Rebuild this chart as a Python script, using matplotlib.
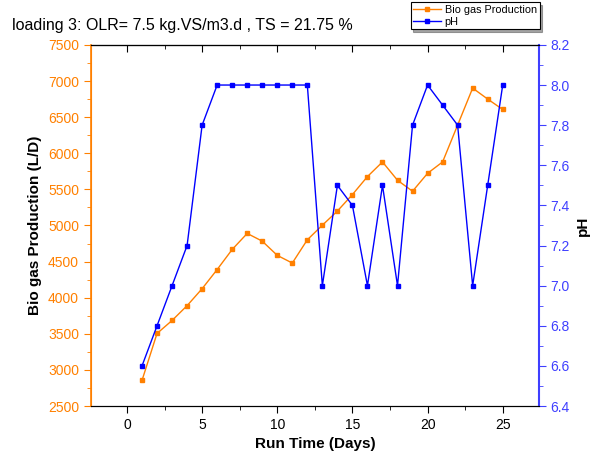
import numpy as np
import matplotlib
matplotlib.use("Agg")
import matplotlib.pyplot as plt
from matplotlib.ticker import MultipleLocator

plt.rcParams['font.family'] = ['Liberation Sans', 'DejaVu Sans']

# datos
days = list(range(1, 26))
biogas = [2855, 3505, 3685, 3890, 4125, 4390, 4668, 4890, 4783, 4586,
          4480, 4802, 5004, 5200, 5428, 5677, 5880, 5626, 5474, 5722,
          5880, 6390, 6902, 6750, 6606]
ph = [6.6, 6.8, 7.0, 7.2, 7.8, 8.0, 8.0, 8.0, 8.0, 8.0, 8.0, 8.0, 7.0,
      7.5, 7.4, 7.0, 7.5, 7.0, 7.8, 8.0, 7.9, 7.8, 7.0, 7.5, 8.0]

orange = '#ff8000'
blue = '#0000ff'
blue_ax = '#3f3fff'

fig = plt.figure(figsize=(6.02, 4.63), dpi=100)
ax = fig.add_axes([0.151, 0.123, 0.744, 0.780])
ax2 = ax.twinx()

l1, = ax.plot(days, biogas, '-s', color=orange, lw=1, ms=3.5, label='Bio gas Production')
l2, = ax2.plot(days, ph, '-s', color=blue, lw=1, ms=3.5, label='pH')

ax.set_xlim(-2.4, 27.4)
ax.set_ylim(2500, 7500)
ax2.set_ylim(6.4, 8.2)

ax.xaxis.set_major_locator(MultipleLocator(5))
ax.xaxis.set_minor_locator(MultipleLocator(2.5))
ax.yaxis.set_major_locator(MultipleLocator(500))
ax.yaxis.set_minor_locator(MultipleLocator(250))
ax2.yaxis.set_major_locator(MultipleLocator(0.2))
ax2.yaxis.set_minor_locator(MultipleLocator(0.1))

ax.tick_params(axis='x', which='both', direction='out', labelsize=10)
ax.tick_params(axis='x', which='major', length=5)
ax.tick_params(axis='x', which='minor', length=3)
ax.tick_params(axis='y', which='both', colors=orange, direction='out', labelsize=10)
ax.tick_params(axis='y', which='major', length=5)
ax.tick_params(axis='y', which='minor', length=3)
ax2.tick_params(axis='y', which='both', colors=blue_ax, direction='out', labelsize=10)
ax2.tick_params(axis='y', which='major', length=5)
ax2.tick_params(axis='y', which='minor', length=3)

# ticks de arriba hacia adentro
top = ax.secondary_xaxis('top')
top.xaxis.set_major_locator(MultipleLocator(5))
top.xaxis.set_minor_locator(MultipleLocator(2.5))
top.tick_params(axis='x', which='both', direction='in', labeltop=False)
top.tick_params(axis='x', which='major', length=5)
top.tick_params(axis='x', which='minor', length=3)

ax.spines['left'].set_color(orange)
ax2.spines['left'].set_color(orange)
ax2.spines['right'].set_color(blue_ax)
ax.spines['right'].set_visible(False)
ax2.spines['right'].set_linewidth(1.5)
ax.spines['left'].set_linewidth(1.2)

ax.set_xlabel('Run Time (Days)', fontsize=11, fontweight='bold')
ax.set_ylabel('Bio gas Production (L/D)', fontsize=11, fontweight='bold')
ax2.set_ylabel('pH', fontsize=11, fontweight='bold')

fig.text(0.02, 0.935, 'loading 3: OLR= 7.5 kg.VS/m3.d , TS = 21.75 %', fontsize=11.5)

leg = fig.legend([l1, l2], ['Bio gas Production', 'pH'], loc='upper left',
                 bbox_to_anchor=(0.682, 0.995), fontsize=7.8, frameon=True,
                 fancybox=False, shadow=True, handlelength=2.6,
                 borderpad=0.25, labelspacing=0.15, borderaxespad=0,
                 handletextpad=0.3)
leg.get_frame().set_edgecolor('black')
leg.get_frame().set_linewidth(0.8)

fig.savefig('out.png', dpi=100)
